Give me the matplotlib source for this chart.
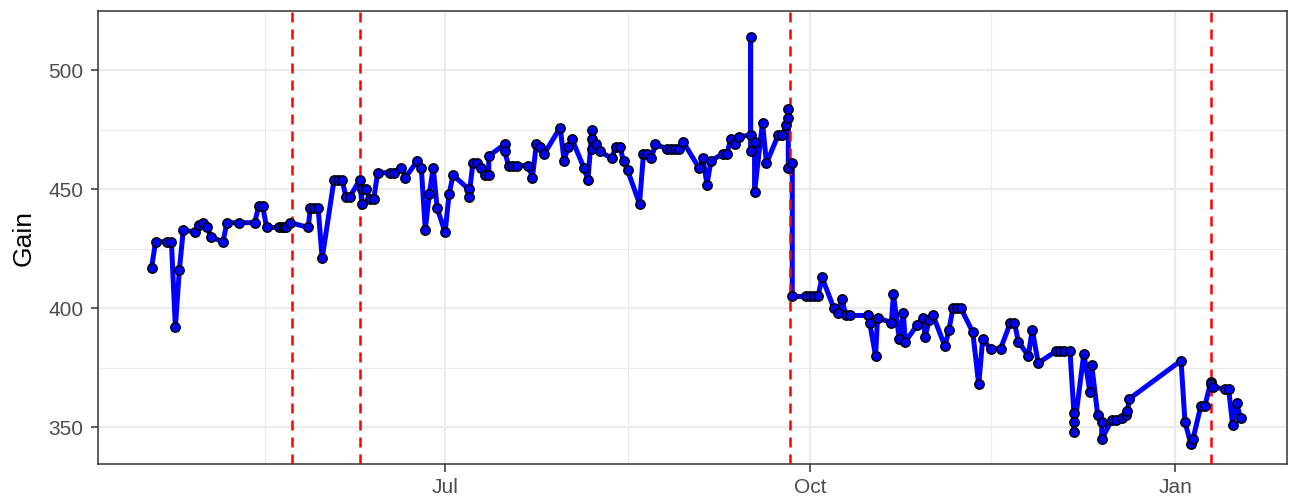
import numpy as np
import pandas as pd
import matplotlib
matplotlib.use("Agg")
import matplotlib.pyplot as plt
import matplotlib.dates as mdates

plt.rcParams['font.family'] = ['Liberation Sans', 'DejaVu Sans']

# observations (date, gain)
dates = [
    "2018-04-18", "2018-04-19", "2018-04-22", "2018-04-23", "2018-04-24", "2018-04-25",
    "2018-04-26", "2018-04-29", "2018-04-30", "2018-05-01", "2018-05-02", "2018-05-03",
    "2018-05-06", "2018-05-07", "2018-05-10", "2018-05-14", "2018-05-15", "2018-05-16",
    "2018-05-17", "2018-05-20", "2018-05-21", "2018-05-21 12:00", "2018-05-22", "2018-05-23",
    "2018-05-27 12:00", "2018-05-28", "2018-05-29", "2018-05-30", "2018-05-31", "2018-06-03",
    "2018-06-04", "2018-06-05", "2018-06-06", "2018-06-07", "2018-06-09 12:00", "2018-06-10",
    "2018-06-10", "2018-06-11", "2018-06-12", "2018-06-13", "2018-06-14", "2018-06-17",
    "2018-06-18", "2018-06-20", "2018-06-21", "2018-06-24", "2018-06-25", "2018-06-26",
    "2018-06-27", "2018-06-28", "2018-06-29", "2018-07-01", "2018-07-02", "2018-07-03",
    "2018-07-07", "2018-07-07", "2018-07-08", "2018-07-09", "2018-07-10", "2018-07-11",
    "2018-07-12", "2018-07-12", "2018-07-16", "2018-07-16", "2018-07-17", "2018-07-18",
    "2018-07-19", "2018-07-22", "2018-07-23", "2018-07-24", "2018-07-25", "2018-07-26",
    "2018-07-30", "2018-07-31", "2018-08-01", "2018-08-02", "2018-08-05", "2018-08-06",
    "2018-08-07", "2018-08-07", "2018-08-07", "2018-08-08", "2018-08-09", "2018-08-12",
    "2018-08-13", "2018-08-14", "2018-08-15", "2018-08-16", "2018-08-19", "2018-08-20",
    "2018-08-21", "2018-08-22", "2018-08-23", "2018-08-26", "2018-08-27", "2018-08-28",
    "2018-08-29", "2018-08-30", "2018-09-03", "2018-09-04", "2018-09-05", "2018-09-06",
    "2018-09-09", "2018-09-10", "2018-09-11", "2018-09-12", "2018-09-13", "2018-09-16",
    "2018-09-16", "2018-09-16", "2018-09-17", "2018-09-17", "2018-09-19", "2018-09-20",
    "2018-09-23", "2018-09-24", "2018-09-25", "2018-09-25 12:00", "2018-09-25 12:00",
    "2018-09-25 12:00", "2018-09-26 12:00", "2018-09-26 12:00", "2018-09-30", "2018-10-01",
    "2018-10-02", "2018-10-03", "2018-10-04", "2018-10-07", "2018-10-08", "2018-10-09",
    "2018-10-10", "2018-10-11", "2018-10-15 12:00", "2018-10-16", "2018-10-17 12:00",
    "2018-10-18", "2018-10-21 12:00", "2018-10-22", "2018-10-23 12:00", "2018-10-24 12:00",
    "2018-10-25", "2018-10-28", "2018-10-29 12:00", "2018-10-30", "2018-10-31", "2018-11-01",
    "2018-11-04", "2018-11-05", "2018-11-06", "2018-11-07", "2018-11-08", "2018-11-11",
    "2018-11-12 12:00", "2018-11-13 12:00", "2018-11-15 12:00", "2018-11-18",
    "2018-11-20 12:00", "2018-11-21 12:00", "2018-11-22 12:00", "2018-11-25", "2018-11-26",
    "2018-11-27 12:00", "2018-12-02", "2018-12-03", "2018-12-04", "2018-12-05 12:00",
    "2018-12-06 12:00", "2018-12-06 12:00", "2018-12-06 12:00", "2018-12-09",
    "2018-12-10 12:00", "2018-12-11", "2018-12-12 12:00", "2018-12-13 12:00",
    "2018-12-13 12:00", "2018-12-16", "2018-12-17", "2018-12-18 12:00", "2018-12-19 12:00",
    "2018-12-20", "2018-12-20 12:00", "2019-01-02 12:00", "2019-01-03 12:00", "2019-01-05",
    "2019-01-05 12:00", "2019-01-07 12:00", "2019-01-08 12:00", "2019-01-10", "2019-01-10",
    "2019-01-10 12:00", "2019-01-13 12:00", "2019-01-14 12:00", "2019-01-15 12:00",
    "2019-01-16 12:00", "2019-01-17 12:00",
]

gain = [
    417, 428, 428, 428, 392, 416, 433, 432, 435, 436, 434, 430,
    428, 436, 436, 436, 443, 443, 434, 434, 434, 434, 434, 436,
    434, 442, 442, 442, 421, 454, 454, 454, 447, 447, 454, 444,
    450, 450, 446, 446, 457, 457, 457, 459, 455, 462, 459, 433,
    448, 459, 442, 432, 448, 456, 450, 447, 461, 461, 459, 456,
    456, 464, 469, 466, 460, 460, 460, 460, 455, 469, 468, 465,
    476, 462, 468, 471, 459, 454, 475, 471, 467, 469, 466, 463,
    468, 468, 462, 458, 444, 465, 465, 463, 469, 467, 467, 467,
    467, 470, 459, 463, 452, 462, 465, 465, 471, 469, 472, 473,
    514, 466, 470, 449, 478, 461, 473, 473, 477, 480, 484,
    459, 461, 405, 405, 405, 405, 405, 413, 400, 398, 404,
    397, 397, 397, 394, 380, 396, 394, 406, 387, 398,
    386, 393, 396, 388, 395, 397, 384, 391, 400, 400, 400, 390,
    368, 387, 383, 383, 394, 394, 386, 380, 391,
    377, 382, 382, 382, 382, 356, 352, 348, 381,
    365, 376, 355, 352, 345, 353, 353, 354, 355,
    357, 362, 378, 352, 343, 345, 359, 359, 369, 368,
    367, 366, 366, 351, 360, 354,
]

# change points (red dashed lines)
changepoints = ["2018-05-23 12:00", "2018-06-09 12:00", "2018-09-26", "2019-01-10"]

x = pd.to_datetime(dates, format="ISO8601")
cp = pd.to_datetime(changepoints, format="ISO8601")

fig = plt.figure(figsize=(12.9, 4.97), dpi=100)
ax = fig.add_axes([98 / 1290, 33 / 497, 1189 / 1290, 453 / 497])

ax.plot(x, gain, color="blue", lw=3.6, zorder=3, solid_capstyle="butt")
for c in cp:
    ax.axvline(c, color="red", lw=1.8, dashes=(4, 2.8), zorder=4)
ax.scatter(x, gain, s=45, facecolor="blue", edgecolor="black", linewidths=1.1, zorder=5)

ax.set_xlim(pd.Timestamp("2018-04-04 12:00"), pd.Timestamp("2019-01-29 05:00"))
ax.set_ylim(334.55, 522.2)

ax.xaxis.set_major_locator(mdates.MonthLocator(bymonth=[1, 4, 7, 10]))
ax.xaxis.set_major_formatter(mdates.DateFormatter("%b"))
minor_x = pd.to_datetime(["2018-05-16 12:00", "2018-08-16 00:00", "2018-11-15 12:00"], format="ISO8601")
ax.set_xticks(minor_x, minor=True)
ax.set_yticks([350, 400, 450, 500])
ax.set_yticks([375, 425, 475, 525], minor=True)

ax.grid(which="major", color="#EBEBEB", lw=1.6)
ax.grid(which="minor", color="#EBEBEB", lw=0.8)
ax.set_axisbelow(True)
ax.tick_params(which="major", length=5.4, width=1.1, color="#333333", labelsize=15,
               labelcolor="#4D4D4D", pad=5)
ax.tick_params(which="minor", length=0)
for s in ax.spines.values():
    s.set_color("#333333")
    s.set_linewidth(1.1)

ax.set_ylabel("Gain", fontsize=19, labelpad=9)
ax.set_xlabel("")

fig.savefig("out.png", dpi=100)
